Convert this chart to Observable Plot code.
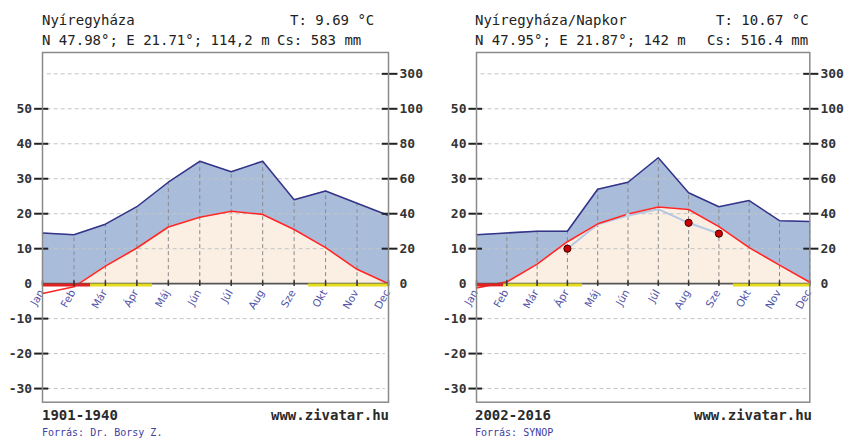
<!DOCTYPE html>
<html>
<head>
<meta charset="utf-8">
<script src="https://cdn.jsdelivr.net/npm/d3@7"></script>
<script src="https://cdn.jsdelivr.net/npm/@observablehq/plot@0.6"></script>
<style>
  body { margin: 0; background: #fff; }
  #wrap { position: relative; width: 845px; height: 438px; overflow: hidden; background: #fff; }
  .pan { position: absolute; top: 0; height: 438px; }
  .t { position: absolute; font-family: "DejaVu Sans Mono", monospace; font-size: 14px; line-height: 16px; color: #222; white-space: pre; }
  .b { font-weight: bold; color: #2a2a2a; }
  .src { font-size: 10px; line-height: 12px; color: #4040a0; }
</style>
</head>
<body>
<div id="wrap"></div>
<script>
// ---- data ----
const months = ["Jan","Feb","Már","Ápr","Máj","Jún","Júl","Aug","Sze","Okt","Nov","Dec"];
// Panel A: Nyíregyháza 1901-1940
const tempA = [-2.8, -0.9, 5.0, 10.2, 16.2, 19.0, 20.7, 19.8, 15.5, 10.3, 4.1, 0.0];
const precA = [29, 28, 34, 44, 58, 70, 64, 70, 48, 53, 46, 39];
const frostA = [{from: 0, to: 1.53, kind: "red"}, {from: 1.53, to: 3.5, kind: "yellow"}, {from: 8.46, to: 11, kind: "yellow"}];
// Panel B: Nyíregyháza/Napkor 2002-2016
const tempB = [-1.2, 0.5, 5.6, 12.0, 17.1, 19.9, 21.9, 21.2, 16.3, 10.3, 5.3, 0.4];
const precB = [28, 29, 30, 30, 54, 58, 72, 52, 44, 47.5, 36, 35.5];
const frostB = [{from: 0, to: 0.9, kind: "red"}, {from: 0.9, to: 3.5, kind: "yellow"}, {from: 8.48, to: 11, kind: "yellow"}];
// current-year monthly temperatures (panel B)
const obsMonthB = [3, 4, 5, 6, 7, 8];
const obsTempB = [10.0, 17.0, 19.5, 21.3, 17.4, 14.3];
const obsDotB = [{m: 3, t: 10.0, big: true}, {m: 5, t: 19.5, big: false}, {m: 7, t: 17.4, big: true}, {m: 8, t: 14.3, big: true}];
// axis tick labels
const tempTicks = [50, 40, 30, 20, 10, 0, -10, -20, -30];
const precTicks = [300, 100, 80, 60, 40, 20, 0];

const toT = p => p <= 100 ? p / 2 : 50 + (p - 100) / 20;   // precipitation -> temperature units
const colors = {red: "#e02222", yellow: "#e6dc1e"};

function panel(temp, prec, frost, opts) {
  const d = months.map((m, i) => ({i, m, t: temp[i], p: toT(prec[i])}));
  const mono = "DejaVu Sans Mono, monospace";
  const marks = [
    Plot.areaY(d, {x: "i", y: "p", fill: "#a9bddb"}),
    Plot.areaY(d, {x: "i", y: "t", fill: "#fbefe3"}),
    Plot.rect([0], {x1: 0, x2: 11, y1: -33.9, y2: 0, fill: "#fff"}),
    Plot.ruleX(d, {x: "i", y1: 0, y2: "p", stroke: "#8a8a8a", strokeDasharray: "4,3", strokeWidth: 1}),
    Plot.ruleY([-30, -20, -10, 10, 20, 30, 40, 50, 60], {x1: 0.15, x2: 10.9, stroke: "#c4c4c4", strokeDasharray: "4,3", strokeWidth: 1}),
    Plot.line(d, {x: "i", y: "p", stroke: "#333388", strokeWidth: 1.5}),
  ];
  if (opts.obs) {
    const o = obsMonthB.map((m, k) => ({m, t: obsTempB[k]}));
    marks.push(Plot.line(o, {x: "m", y: "t", stroke: "#b4c8e2", strokeWidth: 2}));
  }
  marks.push(
    Plot.line(d, {x: "i", y: "t", stroke: "#ff2626", strokeWidth: 1.6}),
    Plot.ruleY([0], {x1: 0, x2: 11, stroke: "#555", strokeWidth: 1.8}),
    Plot.ruleY(frost, {y: () => -0.35, x1: "from", x2: "to", stroke: d => colors[d.kind], strokeWidth: 3}),
    Plot.ruleX(d, {x: "i", y1: -0.8, y2: 0.8, stroke: "#333", strokeWidth: 1.5}),
    Plot.ruleY(tempTicks.filter(v => v !== 0), {y: v => v, x1: -0.25, x2: 0.2, stroke: "#222", strokeWidth: 2}),
    Plot.ruleY(precTicks.filter(v => v !== 0), {y: v => toT(v), x1: 10.8, x2: 11.3, stroke: "#222", strokeWidth: 2}),
    Plot.text(tempTicks, {x: -0.33, y: v => v, text: v => String(v), textAnchor: "end", fontFamily: mono, fontSize: 13, fontWeight: "bold", fill: "#333"}),
    Plot.text(precTicks, {x: 11.35, y: v => toT(v), text: v => String(v), textAnchor: "start", fontFamily: mono, fontSize: 13, fontWeight: "bold", fill: "#333"}),
    Plot.text(d, {x: "i", y: 0, text: "m", rotate: -60, textAnchor: "end", dx: -1, dy: 7, fontFamily: "DejaVu Sans, sans-serif", fontSize: 10.5, fill: "#5252a6"}),
    Plot.frame({stroke: "#8a8a8a", strokeWidth: 1.5})
  );
  if (opts.obs) {
    marks.push(Plot.dot(obsDotB, {x: "m", y: "t", r: d => d.big ? 3.6 : 2, fill: d => d.big ? "#cc0000" : "#c8d4e4", stroke: d => d.big ? "#3a0000" : "#c8d4e4", strokeWidth: 1}));
  }
  return Plot.plot({
    width: opts.width, height: 438,
    marginLeft: opts.ml, marginRight: opts.mr, marginTop: 52, marginBottom: 36.3,
    x: {domain: [0, 11], axis: null},
    y: {domain: [-33.9, 66.1], axis: null},
    r: {type: "identity"},
    style: {background: "transparent", overflow: "visible"},
    marks
  });
}

const wrap = document.getElementById("wrap");
function addPanel(left, width, svg) {
  const div = document.createElement("div");
  div.className = "pan";
  div.style.left = left + "px";
  div.style.width = width + "px";
  div.appendChild(svg);
  wrap.appendChild(div);
}
function addText(txt, x, y, cls) {
  const s = document.createElement("div");
  s.className = "t " + (cls || "");
  s.textContent = txt;
  s.style.left = x + "px";
  s.style.top = y + "px";
  wrap.appendChild(s);
}

addPanel(0, 420, panel(tempA, precA, frostA, {width: 420, ml: 42, mr: 32, obs: false}));
addPanel(420, 425, panel(tempB, precB, frostB, {width: 425, ml: 56, mr: 35.7, obs: true}));

// headers
addText("Nyíregyháza", 42, 12);
addText("T: 9.69 °C", 290, 12);
addText("N 47.98°; E 21.71°; 114,2 m", 42, 32);
addText("Cs: 583 mm", 277, 32);
addText("Nyíregyháza/Napkor", 475, 12);
addText("T: 10.67 °C", 716, 12);
addText("N 47.95°; E 21.87°; 142 m", 475, 32);
addText("Cs: 516.4 mm", 707, 32);
// footers
addText("1901-1940", 42, 407, "b");
addText("www.zivatar.hu", 271, 407, "b");
addText("Forrás: Dr. Borsy Z.", 42, 427, "src");
addText("2002-2016", 475, 407, "b");
addText("www.zivatar.hu", 694, 407, "b");
addText("Forrás: SYNOP", 475, 427, "src");
</script>
</body>
</html>
